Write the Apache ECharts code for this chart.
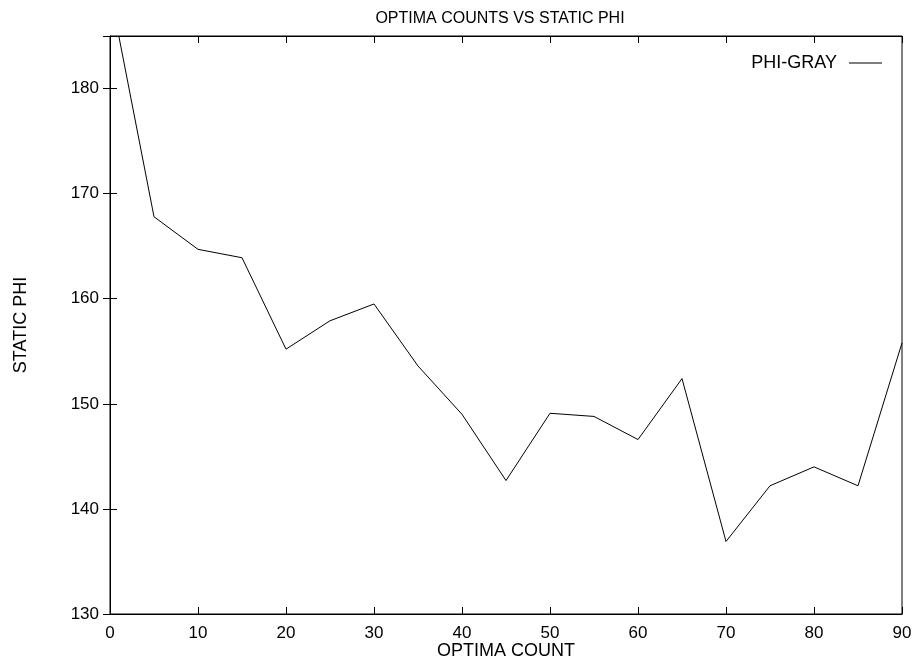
<!DOCTYPE html>
<html>
<head>
<meta charset="utf-8">
<script src="https://cdn.jsdelivr.net/npm/echarts@6/dist/echarts.min.js"></script>
<style>
  html, body { margin: 0; padding: 0; background: #fff; }
  #main { width: 915px; height: 661px; }
</style>
</head>
<body>
<div id="main"></div>
<script>
// values
var optimaCount = [1, 5, 10, 15, 20, 25, 30, 35, 40, 45, 50, 55, 60, 65, 70, 75, 80, 85, 90];
var staticPhi = [185, 167.8, 164.7, 163.9, 155.2, 157.9, 159.5, 153.6, 149.0, 142.7, 149.1, 148.8, 146.6, 152.4, 136.9, 142.2, 144.0, 142.2, 155.8];

var seriesData = optimaCount.map(function (x, i) { return [x, staticPhi[i]]; });

var font = '"Liberation Sans", Arial, sans-serif';
var ink = '#000';

var chart = echarts.init(document.getElementById('main'));

// gnuplot style frame: ticks inside, mirrored on top and right
var mirrorTick = { show: true, inside: true, length: 7, lineStyle: { color: ink, width: 1 } };

var option = {
    backgroundColor: '#fff',
    animation: false,
    title: {
        text: 'OPTIMA COUNTS VS STATIC PHI',
        left: 495,
        textAlign: 'center',
        top: 6,
        textStyle: { fontFamily: font, fontSize: 16, fontWeight: 'normal', color: ink }
    },
    legend: {
        data: ['PHI-GRAY'],
        right: 28,
        top: 49,
        align: 'right',
        icon: 'rect',
        itemWidth: 33,
        itemHeight: 1,
        itemStyle: { color: ink },
        textStyle: { fontFamily: font, fontSize: 18, color: ink, padding: [0, 7, 0, 0] }
    },
    grid: {
        left: 110, right: 13, top: 36, bottom: 47,
        containLabel: false,
        outerBoundsMode: 'none',
        show: true, borderColor: ink, borderWidth: 1
    },
    xAxis: [
        {
            type: 'value',
            min: 0, max: 90, interval: 10,
            name: 'OPTIMA COUNT',
            nameLocation: 'middle',
            nameGap: 28,
            nameMoveOverlap: false,
            nameTextStyle: { fontFamily: font, fontSize: 18, color: ink },
            axisLine: { show: true, lineStyle: { color: ink, width: 1 } },
            axisTick: mirrorTick,
            axisLabel: { fontFamily: font, fontSize: 17, color: ink, margin: 11 },
            splitLine: { show: false }
        },
        {
            type: 'value', position: 'top',
            min: 0, max: 90, interval: 10,
            axisLine: { show: true, lineStyle: { color: ink, width: 1 } },
            axisTick: mirrorTick,
            axisLabel: { show: false },
            splitLine: { show: false }
        }
    ],
    yAxis: [
        {
            type: 'value',
            min: 130, max: 185, interval: 10,
            name: 'STATIC PHI',
            nameLocation: 'middle',
            nameGap: 80,
            nameTextStyle: { fontFamily: font, fontSize: 18, color: ink },
            axisLine: { show: true, lineStyle: { color: ink, width: 1 } },
            axisTick: mirrorTick,
            axisLabel: { fontFamily: font, fontSize: 17, color: ink, margin: 11, showMaxLabel: false },
            splitLine: { show: false }
        },
        {
            type: 'value', position: 'right',
            min: 130, max: 185, interval: 10,
            axisLine: { show: true, lineStyle: { color: ink, width: 1 } },
            axisTick: mirrorTick,
            axisLabel: { show: false },
            splitLine: { show: false }
        }
    ],
    series: [
        {
            name: 'PHI-GRAY',
            type: 'line',
            data: seriesData,
            showSymbol: false,
            symbol: 'none',
            lineStyle: { color: ink, width: 1 },
            itemStyle: { color: ink },
            clip: true
        }
    ]
};

chart.setOption(option);
</script>
</body>
</html>
